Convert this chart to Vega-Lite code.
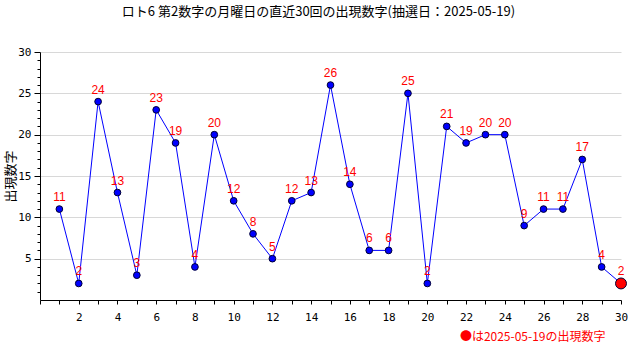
{
  "$schema": "https://vega.github.io/schema/vega-lite/v6.json",
  "width": 581,
  "height": 248,
  "autosize": {"type": "none"},
  "padding": {"left": 40, "top": 52, "right": 19, "bottom": 60},
  "background": "white",
  "title": {
    "text": "ロト6 第2数字の月曜日の直近30回の出現数字(抽選日：2025-05-19)",
    "font": "Noto Sans CJK JP",
    "fontSize": 13,
    "fontWeight": "normal",
    "color": "black",
    "anchor": "middle",
    "frame": "group",
    "dx": -12,
    "offset": 27
  },
  "config": {
    "view": {"stroke": null},
    "axis": {"domainColor": "black", "tickColor": "black", "labelColor": "black", "labelFont": "DejaVu Sans Mono", "labelFontSize": 11}
  },
  "data": {
    "values": [
      {"n": 1, "v": 11, "latest": false},
      {"n": 2, "v": 2, "latest": false},
      {"n": 3, "v": 24, "latest": false},
      {"n": 4, "v": 13, "latest": false},
      {"n": 5, "v": 3, "latest": false},
      {"n": 6, "v": 23, "latest": false},
      {"n": 7, "v": 19, "latest": false},
      {"n": 8, "v": 4, "latest": false},
      {"n": 9, "v": 20, "latest": false},
      {"n": 10, "v": 12, "latest": false},
      {"n": 11, "v": 8, "latest": false},
      {"n": 12, "v": 5, "latest": false},
      {"n": 13, "v": 12, "latest": false},
      {"n": 14, "v": 13, "latest": false},
      {"n": 15, "v": 26, "latest": false},
      {"n": 16, "v": 14, "latest": false},
      {"n": 17, "v": 6, "latest": false},
      {"n": 18, "v": 6, "latest": false},
      {"n": 19, "v": 25, "latest": false},
      {"n": 20, "v": 2, "latest": false},
      {"n": 21, "v": 21, "latest": false},
      {"n": 22, "v": 19, "latest": false},
      {"n": 23, "v": 20, "latest": false},
      {"n": 24, "v": 20, "latest": false},
      {"n": 25, "v": 9, "latest": false},
      {"n": 26, "v": 11, "latest": false},
      {"n": 27, "v": 11, "latest": false},
      {"n": 28, "v": 17, "latest": false},
      {"n": 29, "v": 4, "latest": false},
      {"n": 30, "v": 2, "latest": true}
    ]
  },
  "encoding": {
    "x": {
      "field": "n",
      "type": "quantitative",
      "scale": {"domain": [0, 30], "nice": false, "zero": false},
      "axis": {
        "values": [0,1,2,3,4,5,6,7,8,9,10,11,12,13,14,15,16,17,18,19,20,21,22,23,24,25,26,27,28,29,30],
        "labelExpr": "datum.value > 0 && datum.value % 2 === 0 ? datum.label : ''",
        "grid": false,
        "tickSize": 4,
        "labelPadding": 7,
        "labelFlush": false,
        "title": "●は2025-05-19の出現数字",
        "titleColor": "red",
        "titleFont": "Noto Sans CJK JP",
        "titleFontSize": 12,
        "titleFontWeight": "normal",
        "titleAnchor": "end",
        "titleAlign": "right",
        "titleBaseline": "middle",
        "titleX": 565,
        "titleY": 36
      }
    },
    "y": {
      "field": "v",
      "type": "quantitative",
      "scale": {"domain": [0, 30], "nice": false},
      "axis": {
        "values": [1,2,3,4,5,6,7,8,9,10,11,12,13,14,15,16,17,18,19,20,21,22,23,24,25,26,27,28,29,30],
        "labelExpr": "datum.value % 5 === 0 ? datum.label : ''",
        "grid": true,
        "gridColor": "#d8d8d8",
        "gridOpacity": {"condition": {"test": "datum.value % 5 === 0", "value": 1}, "value": 0},
        "tickSize": {"condition": {"test": "datum.value % 5 === 0", "value": 6}, "value": 3},
        "labelPadding": 3,
        "title": "出現数字",
        "titleFont": "Noto Sans CJK JP",
        "titleFontSize": 13,
        "titleFontWeight": "normal",
        "titleColor": "black",
        "titleX": -30,
        "titleY": 124,
        "titleAngle": -90,
        "titleAlign": "center",
        "titleBaseline": "middle"
      }
    }
  },
  "layer": [
    {"mark": {"type": "line", "color": "blue", "strokeWidth": 1}},
    {
      "mark": {"type": "point", "filled": true, "stroke": "#000033", "strokeWidth": 1, "opacity": 1},
      "encoding": {
        "color": {"field": "latest", "type": "nominal", "scale": {"domain": [false, true], "range": ["blue", "red"]}, "legend": null},
        "size": {"field": "latest", "type": "nominal", "scale": {"domain": [false, true], "range": [45, 120]}, "legend": null}
      }
    },
    {
      "mark": {"type": "text", "color": "red", "font": "Liberation Sans", "fontSize": 12, "dy": -12},
      "encoding": {"text": {"field": "v", "type": "quantitative"}}
    }
  ]
}
